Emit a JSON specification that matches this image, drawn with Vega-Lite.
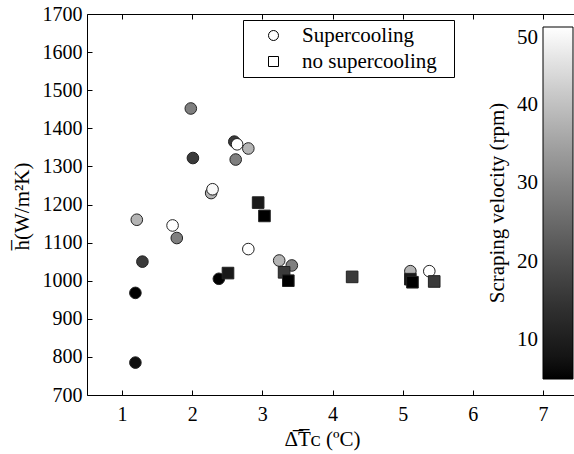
{
  "$schema": "https://vega.github.io/schema/vega-lite/v6.json",
  "width": 491,
  "height": 381,
  "autosize": {"type": "none"},
  "padding": {"left": 87, "top": 14, "right": 0, "bottom": 59},
  "background": "white",
  "config": {
    "view": {"stroke": null},
    "axis": {
      "grid": false,
      "domainColor": "black",
      "tickColor": "black",
      "labelColor": "black",
      "titleColor": "black",
      "labelFont": "Times New Roman",
      "titleFont": "Times New Roman",
      "labelFontSize": 20,
      "titleFontSize": 21,
      "titleFontWeight": "normal",
      "labelFlush": false,
      "labelOverlap": false,
      "labelBound": false,
      "tickSize": -5
    },
    "legend": {
      "labelFont": "Times New Roman",
      "titleFont": "Times New Roman",
      "labelFontSize": 21,
      "titleFontSize": 21,
      "titleFontWeight": "normal",
      "labelColor": "black",
      "titleColor": "black"
    }
  },
  "data": {
    "values": [
      {"dT": 1.98, "h": 1452, "rpm": 29, "type": "Supercooling"},
      {"dT": 2.60, "h": 1365, "rpm": 16, "type": "Supercooling"},
      {"dT": 2.64, "h": 1358, "rpm": 50, "type": "Supercooling"},
      {"dT": 2.80, "h": 1347, "rpm": 38, "type": "Supercooling"},
      {"dT": 2.62, "h": 1318, "rpm": 29, "type": "Supercooling"},
      {"dT": 2.01, "h": 1322, "rpm": 16, "type": "Supercooling"},
      {"dT": 2.27, "h": 1230, "rpm": 38, "type": "Supercooling"},
      {"dT": 2.29, "h": 1240, "rpm": 49, "type": "Supercooling"},
      {"dT": 1.21, "h": 1160, "rpm": 38, "type": "Supercooling"},
      {"dT": 1.72, "h": 1145, "rpm": 50, "type": "Supercooling"},
      {"dT": 1.78, "h": 1112, "rpm": 29, "type": "Supercooling"},
      {"dT": 2.80, "h": 1083, "rpm": 50, "type": "Supercooling"},
      {"dT": 1.29, "h": 1050, "rpm": 16, "type": "Supercooling"},
      {"dT": 2.38, "h": 1005, "rpm": 5, "type": "Supercooling"},
      {"dT": 1.19, "h": 968, "rpm": 5, "type": "Supercooling"},
      {"dT": 1.19, "h": 785, "rpm": 7, "type": "Supercooling"},
      {"dT": 3.24, "h": 1053, "rpm": 38, "type": "Supercooling"},
      {"dT": 3.42, "h": 1040, "rpm": 29, "type": "Supercooling"},
      {"dT": 5.11, "h": 1025, "rpm": 38, "type": "Supercooling"},
      {"dT": 5.38, "h": 1025, "rpm": 50, "type": "Supercooling"},
      {"dT": 2.94, "h": 1205, "rpm": 9, "type": "no supercooling"},
      {"dT": 3.03, "h": 1170, "rpm": 5, "type": "no supercooling"},
      {"dT": 2.51, "h": 1020, "rpm": 9, "type": "no supercooling"},
      {"dT": 3.31, "h": 1022, "rpm": 16, "type": "no supercooling"},
      {"dT": 3.37, "h": 1000, "rpm": 5, "type": "no supercooling"},
      {"dT": 4.28, "h": 1010, "rpm": 16, "type": "no supercooling"},
      {"dT": 5.11, "h": 1004, "rpm": 9, "type": "no supercooling"},
      {"dT": 5.14, "h": 996, "rpm": 5, "type": "no supercooling"},
      {"dT": 5.45, "h": 998, "rpm": 16, "type": "no supercooling"}
    ]
  },
  "layer": [
    {
      "mark": {"type": "point", "filled": true, "opacity": 1, "stroke": "#222222", "strokeWidth": 1, "size": 135},
      "encoding": {
        "x": {
          "field": "dT", "type": "quantitative",
          "scale": {"domain": [0.5, 7.5], "nice": false, "zero": false},
          "axis": {
            "orient": "bottom",
            "values": [1, 2, 3, 4, 5, 6, 7],
            "format": "d",
            "title": "Δ̅T̅ᴄ  (ºC)",
            "titleX": 235, "titleY": 44, "titleBaseline": "middle",
            "labelPadding": 14,
            "labelOverlap": false
          }
        },
        "y": {
          "field": "h", "type": "quantitative",
          "scale": {"domain": [700, 1700], "nice": false, "zero": false},
          "axis": {
            "values": [700, 800, 900, 1000, 1100, 1200, 1300, 1400, 1500, 1600, 1700],
            "format": "d",
            "title": "h̅(W/m²K)",
            "titleX": -65, "titleY": 192, "titleBaseline": "middle",
            "labelPadding": 10,
            "labelOverlap": false
          }
        },
        "color": {
          "field": "rpm", "type": "quantitative",
          "scale": {"domain": [5, 50], "range": ["#000000", "#ffffff"]},
          "legend": {
            "orient": "none", "legendX": 400, "legendY": 13,
            "direction": "vertical",
            "title": "Scraping velocity (rpm)",
            "titleOrient": "left", "titleAnchor": "middle",
            "titlePadding": 34,
            "titleLimit": 500,
            "gradientLength": 352, "gradientThickness": 30,
            "gradientStrokeColor": "black", "gradientStrokeWidth": 1,
            "labelOffset": -56,
            "values": [10, 20, 30, 40, 50],
            "labelOverlap": false,
            "padding": 0
          }
        },
        "shape": {
          "field": "type", "type": "nominal",
          "scale": {"domain": ["Supercooling", "no supercooling"], "range": ["circle", "square"]},
          "legend": {
            "orient": "none", "legendX": 156, "legendY": 6,
            "title": ".",
            "titleColor": "white",
            "titleOrient": "right",
            "titlePadding": 6,
            "padding": 5,
            "strokeColor": "black",
            "fillColor": "white",
            "symbolSize": 100,
            "symbolFillColor": "#ffffff",
            "symbolStrokeColor": "black",
            "symbolStrokeWidth": 1,
            "symbolOffset": 15,
            "labelOffset": 18,
            "rowPadding": 4,
            "encode": {"symbols": {
              "enter": {"fill": {"value": "#ffffff"}, "fillOpacity": {"value": 1}},
              "update": {"fill": {"value": "#ffffff"}, "fillOpacity": {"value": 1}, "stroke": {"value": "black"}, "strokeWidth": {"value": 1}, "opacity": {"value": 1}}
            }}
          }
        }
      }
    },
    {
      "mark": {"type": "point", "opacity": 0},
      "encoding": {
        "x": {
          "field": "dT", "type": "quantitative",
          "axis": {"orient": "top", "values": [1, 2, 3, 4, 5, 6, 7], "labels": false, "title": null}
        }
      }
    }
  ],
  "resolve": {"axis": {"x": "independent"}}
}
